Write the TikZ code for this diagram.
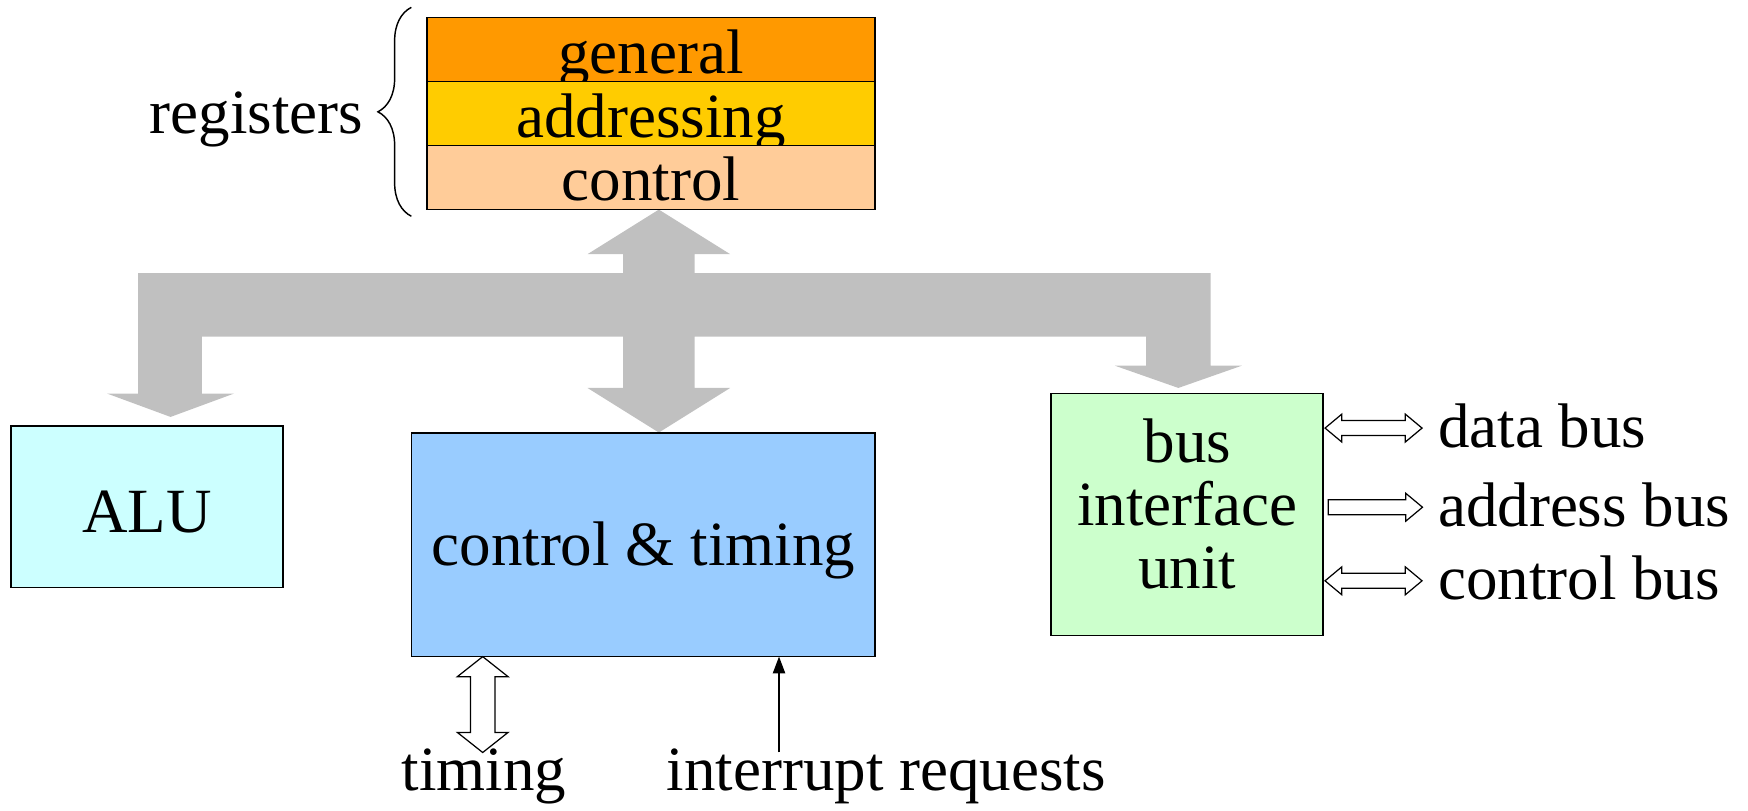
\documentclass[tikz,border=0pt]{standalone}
\usepackage{fontspec}
\setmainfont{Liberation Serif}
\usetikzlibrary{arrows.meta,decorations.pathreplacing}

\definecolor{regGeneral}{HTML}{FF9900}
\definecolor{regAddress}{HTML}{FFCC00}
\definecolor{regControl}{HTML}{FFCC99}
\definecolor{aluCyan}{HTML}{CCFFFF}
\definecolor{ctlBlue}{HTML}{99CCFF}
\definecolor{biuGreen}{HTML}{CCFFCC}
\definecolor{busGray}{HTML}{C0C0C0}

% hollow horizontal double arrow: left tip x, right tip x, centre y
\newcommand\hollowDouble[3]{%
  \filldraw[hollow] (#1,#3) -- (#1+15,#3-12.5) -- (#1+15,#3-6.75) -- (#2-15,#3-6.75)
    -- (#2-15,#3-12.5) -- (#2,#3) -- (#2-15,#3+12.5) -- (#2-15,#3+6.75)
    -- (#1+15,#3+6.75) -- (#1+15,#3+12.5) -- cycle;}
% hollow horizontal single arrow pointing right
\newcommand\hollowSingle[3]{%
  \filldraw[hollow] (#1,#3-6.75) -- (#2-15,#3-6.75) -- (#2-15,#3-12.5) -- (#2,#3)
    -- (#2-15,#3+12.5) -- (#2-15,#3+6.75) -- (#1,#3+6.75) -- cycle;}

\begin{document}
\begin{tikzpicture}[x=1pt,y=-1pt,
  every node/.style={font=\fontsize{56.5}{56.5}\selectfont, inner sep=0pt, outer sep=0pt},
  box/.style={draw=black, line width=1.5pt, rectangle, inner sep=0pt},
  regrow/.style={box, minimum width=402pt, minimum height=57.4pt,
                 text height=49.9pt, text depth=7.5pt, anchor=north},
  hollow/.style={draw=black, fill=white, line width=1.1pt, line join=miter},
  txt/.style={anchor=base}]

\useasboundingbox (0,0) rectangle (1568,727);

% ---- shared internal bus (drawn first, under the boxes)
\fill[busGray] (591,188) -- (655,228) -- (623,228) -- (623,245) -- (1086,245)
  -- (1086,328) -- (1114,328) -- (1057,348) -- (1000,328) -- (1028,328)
  -- (1028,302) -- (623,302) -- (623,348) -- (655,348) -- (591,388)
  -- (527,348) -- (559,348) -- (559,302) -- (181,302) -- (181,353)
  -- (210,353) -- (153,374) -- (96,353) -- (124,353) -- (124,245)
  -- (559,245) -- (559,228) -- (527,228) -- cycle;

% ---- register file
\node[regrow, fill=regGeneral] (regGen)  at (584,15.6) {general};
\node[regrow, fill=regAddress] (regAddr) at (regGen.south) {addressing};
\node[regrow, fill=regControl] (regCtl)  at (regAddr.south) {control};

\draw[decorate, decoration={brace, amplitude=30pt}, line width=1.3pt]
  (369,194) -- (369,6.6);
\node[txt] (regLabel) at (230,119.6) {registers};

% ---- functional units
\node[box, fill=aluCyan, minimum width=244pt, minimum height=145pt,
      text height=96pt, text depth=49pt] (alu) at (132,454.5) {ALU};
\node[box, fill=ctlBlue, minimum width=416pt, minimum height=200.3pt,
      text height=118.3pt, text depth=82pt] (ctl) at (577,488.85) {control \& timing};
\node[box, fill=biuGreen, minimum width=244pt, minimum height=217pt] (biu) at (1065,461.5) {};
\node[align=center] (biuText) at (1065,452.1) {bus\\interface\\unit};

% ---- external bus connections
\node[txt, anchor=base west] (dataBus) at (1290,401) {data bus};
\node[txt, anchor=base west] (addrBus) at (1290,472) {address bus};
\node[txt, anchor=base west] (ctlBus)  at (1290,538) {control bus};
\hollowDouble{1188.6}{1275.6}{384}
\hollowSingle{1191.5}{1276}{455}
\hollowDouble{1188.6}{1275.6}{521}

% ---- timing and interrupt inputs
\node[txt] (timing) at (434,709) {timing};
\node[txt] (irq) at (795,709) {interrupt requests};

\filldraw[hollow] (433,589) -- (455.75,607) -- (444,607) -- (444,657)
  -- (455.75,657) -- (433,675) -- (410.25,657) -- (422,657) -- (422,607)
  -- (410.25,607) -- cycle;

\coordinate (irqFoot) at (698.8,675);
\draw[line width=1.3pt, -{Triangle[length=15pt,width=11pt]}]
  (irqFoot) -- (irqFoot |- ctl.south);
\end{tikzpicture}
\end{document}
